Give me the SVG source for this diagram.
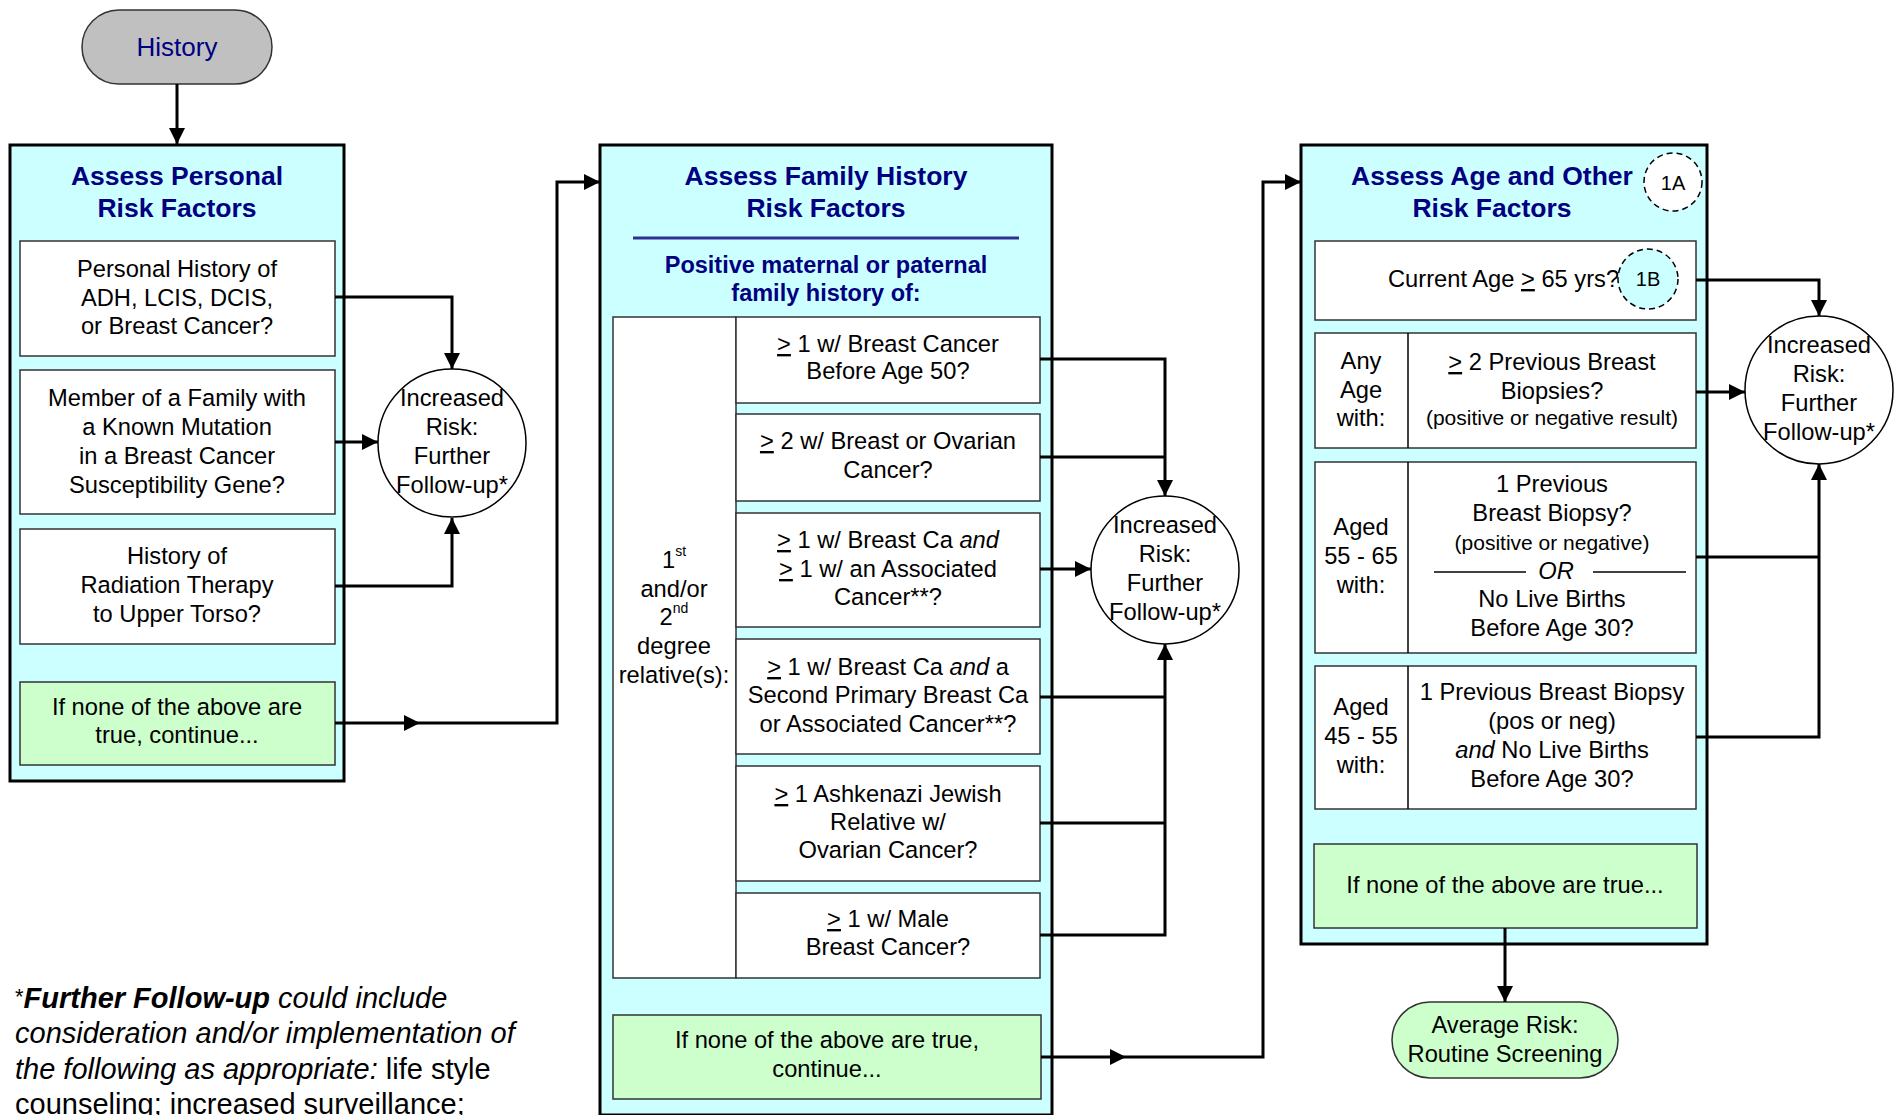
<svg xmlns="http://www.w3.org/2000/svg" width="1902" height="1115" viewBox="0 0 1902 1115">
<defs>
<marker id="ah" markerWidth="16" markerHeight="16" refX="16" refY="8" orient="auto" markerUnits="userSpaceOnUse"><path d="M0,0 L16,8 L0,16 z" fill="#000"/></marker>
<style>
.t{font-family:"Liberation Sans",Arial,sans-serif;font-size:23.7px;fill:#000;text-anchor:middle}
.h{font-family:"Liberation Sans",Arial,sans-serif;font-size:26.5px;font-weight:bold;fill:#000080;text-anchor:middle}
.sub{font-family:"Liberation Sans",Arial,sans-serif;font-size:23.5px;font-weight:bold;fill:#000080;text-anchor:middle}
.sm{font-size:21px}
.lbl{font-family:"Liberation Sans",Arial,sans-serif;font-size:20px;fill:#000;text-anchor:middle}
.panel{fill:#ccffff;stroke:#000;stroke-width:3}
.box{fill:#fff;stroke:#333;stroke-width:1.5}
.gbox{fill:#ccffcc;stroke:#333;stroke-width:1.5}
.circ{fill:#fff;stroke:#000;stroke-width:1.5}
.dash{stroke:#000;stroke-width:1.5;stroke-dasharray:6,4}
.c{fill:none;stroke:#000;stroke-width:3}
.ca{fill:none;stroke:#000;stroke-width:3;marker-end:url(#ah)}
.u{text-decoration:underline}
.i{font-style:italic}
.fn{font-family:"Liberation Sans",Arial,sans-serif;font-size:29px;fill:#000}
</style>
</defs>
<rect width="1902" height="1115" fill="#fff"/>

<g id="history">
<rect x="82" y="10" width="190" height="74" rx="37" ry="37" fill="#c0c0c0" stroke="#333" stroke-width="1.5"/>
<text class="t" x="177" y="56" style="font-size:26px;fill:#000080">History</text>
</g>

<g id="panel-personal">
<rect class="panel" x="10" y="145" width="334" height="636"/>
<text class="h" x="177" y="185">Assess Personal</text>
<text class="h" x="177" y="217">Risk Factors</text>
</g>
<g id="p1">
<rect class="box" x="20" y="241" width="315" height="115"/>
<text class="t" x="177" y="277">Personal History of</text>
<text class="t" x="177" y="306">ADH, LCIS, DCIS,</text>
<text class="t" x="177" y="334">or Breast Cancer?</text>
</g>
<g id="p2">
<rect class="box" x="20" y="370" width="315" height="144"/>
<text class="t" x="177" y="406">Member of a Family with</text>
<text class="t" x="177" y="435">a Known Mutation</text>
<text class="t" x="177" y="464">in a Breast Cancer</text>
<text class="t" x="177" y="493">Susceptibility Gene?</text>
</g>
<g id="p3">
<rect class="box" x="20" y="529" width="315" height="115"/>
<text class="t" x="177" y="564">History of</text>
<text class="t" x="177" y="593">Radiation Therapy</text>
<text class="t" x="177" y="622">to Upper Torso?</text>
</g>
<g id="p-none">
<rect class="gbox" x="20" y="682" width="315" height="83"/>
<text class="t" x="177" y="715">If none of the above are</text>
<text class="t" x="177" y="743">true, continue...</text>
</g>
<g id="risk1">
<circle class="circ" cx="452" cy="443" r="74"/>
<text class="t" x="452" y="406">Increased</text>
<text class="t" x="452" y="435">Risk:</text>
<text class="t" x="452" y="464">Further</text>
<text class="t" x="452" y="493">Follow-up*</text>
</g>

<g id="panel-family">
<rect class="panel" x="600" y="145" width="452" height="970"/>
<text class="h" x="826" y="185">Assess Family History</text>
<text class="h" x="826" y="217">Risk Factors</text>
<line x1="633" y1="238" x2="1019" y2="238" stroke="#2e3192" stroke-width="3"/>
<text class="sub" x="826" y="273">Positive maternal or paternal</text>
<text class="sub" x="826" y="301">family history of:</text>
</g>
<g id="relatives">
<rect x="613" y="317" width="123" height="661" fill="#fff" stroke="#333" stroke-width="1.5"/>
<text class="t" x="674" y="568">1<tspan dy="-12" style="font-size:14px">st</tspan></text>
<text class="t" x="674" y="597">and/or</text>
<text class="t" x="674" y="625">2<tspan dy="-12" style="font-size:14px">nd</tspan></text>
<text class="t" x="674" y="654">degree</text>
<text class="t" x="674" y="683">relative(s):</text>
</g>
<g id="fA">
<rect class="box" x="736" y="317" width="304" height="86"/>
<text class="t" x="888" y="352"><tspan class="u">&gt;</tspan> 1 w/ Breast Cancer</text>
<text class="t" x="888" y="379">Before Age 50?</text>
</g>
<g id="fB">
<rect class="box" x="736" y="414" width="304" height="87"/>
<text class="t" x="888" y="449"><tspan class="u">&gt;</tspan> 2 w/ Breast or Ovarian</text>
<text class="t" x="888" y="478">Cancer?</text>
</g>
<g id="fC">
<rect class="box" x="736" y="513" width="304" height="114"/>
<text class="t" x="888" y="548"><tspan class="u">&gt;</tspan> 1 w/ Breast Ca <tspan class="i">and</tspan></text>
<text class="t" x="888" y="577"><tspan class="u">&gt;</tspan> 1 w/ an Associated</text>
<text class="t" x="888" y="605">Cancer**?</text>
</g>
<g id="fD">
<rect class="box" x="736" y="639" width="304" height="115"/>
<text class="t" x="888" y="675"><tspan class="u">&gt;</tspan> 1 w/ Breast Ca <tspan class="i">and</tspan> a</text>
<text class="t" x="888" y="703">Second Primary Breast Ca</text>
<text class="t" x="888" y="732">or Associated Cancer**?</text>
</g>
<g id="fE">
<rect class="box" x="736" y="766" width="304" height="115"/>
<text class="t" x="888" y="802"><tspan class="u">&gt;</tspan> 1 Ashkenazi Jewish</text>
<text class="t" x="888" y="830">Relative w/</text>
<text class="t" x="888" y="858">Ovarian Cancer?</text>
</g>
<g id="fF">
<rect class="box" x="736" y="893" width="304" height="85"/>
<text class="t" x="888" y="927"><tspan class="u">&gt;</tspan> 1 w/ Male</text>
<text class="t" x="888" y="955">Breast Cancer?</text>
</g>
<g id="f-none">
<rect class="gbox" x="613" y="1015" width="428" height="84"/>
<text class="t" x="827" y="1048">If none of the above are true,</text>
<text class="t" x="827" y="1077">continue...</text>
</g>
<g id="risk2">
<circle class="circ" cx="1165" cy="570" r="74"/>
<text class="t" x="1165" y="533">Increased</text>
<text class="t" x="1165" y="562">Risk:</text>
<text class="t" x="1165" y="591">Further</text>
<text class="t" x="1165" y="620">Follow-up*</text>
</g>

<g id="panel-age">
<rect class="panel" x="1301" y="145" width="406" height="799"/>
<text class="h" x="1492" y="185">Assess Age and Other</text>
<text class="h" x="1492" y="217">Risk Factors</text>
<circle class="dash" cx="1673" cy="182" r="29" fill="#fff"/>
<text class="lbl" x="1673" y="190">1A</text>
</g>
<g id="a-current">
<rect class="box" x="1315" y="241" width="381" height="79"/>
<text class="t" x="1388" y="287" style="text-anchor:start">Current Age <tspan class="u">&gt;</tspan> 65 yrs?</text>
<circle class="dash" cx="1648" cy="279" r="30" fill="#ccffff"/>
<text class="lbl" x="1648" y="286">1B</text>
</g>
<g id="a-any">
<rect class="box" x="1315" y="333" width="381" height="115"/>
<line x1="1408" y1="333" x2="1408" y2="448" stroke="#000" stroke-width="1.5"/>
<text class="t" x="1361" y="369">Any</text>
<text class="t" x="1361" y="398">Age</text>
<text class="t" x="1361" y="426">with:</text>
<text class="t" x="1552" y="370"><tspan class="u">&gt;</tspan> 2 Previous Breast</text>
<text class="t" x="1552" y="399">Biopsies?</text>
<text class="t sm" x="1552" y="425">(positive or negative result)</text>
</g>
<g id="a-5565">
<rect class="box" x="1315" y="462" width="381" height="191"/>
<line x1="1408" y1="462" x2="1408" y2="653" stroke="#000" stroke-width="1.5"/>
<text class="t" x="1361" y="535">Aged</text>
<text class="t" x="1361" y="564">55 - 65</text>
<text class="t" x="1361" y="593">with:</text>
<text class="t" x="1552" y="492">1 Previous</text>
<text class="t" x="1552" y="521">Breast Biopsy?</text>
<text class="t sm" x="1552" y="550">(positive or negative)</text>
<line x1="1434" y1="572" x2="1526" y2="572" stroke="#000" stroke-width="1.5"/>
<line x1="1593" y1="572" x2="1686" y2="572" stroke="#000" stroke-width="1.5"/>
<text class="t i" x="1556" y="579">OR</text>
<text class="t" x="1552" y="607">No Live Births</text>
<text class="t" x="1552" y="636">Before Age 30?</text>
</g>
<g id="a-4555">
<rect class="box" x="1315" y="666" width="381" height="143"/>
<line x1="1408" y1="666" x2="1408" y2="809" stroke="#000" stroke-width="1.5"/>
<text class="t" x="1361" y="715">Aged</text>
<text class="t" x="1361" y="744">45 - 55</text>
<text class="t" x="1361" y="773">with:</text>
<text class="t" x="1552" y="700">1 Previous Breast Biopsy</text>
<text class="t" x="1552" y="729">(pos or neg)</text>
<text class="t" x="1552" y="758"><tspan class="i">and</tspan> No Live Births</text>
<text class="t" x="1552" y="787">Before Age 30?</text>
</g>
<g id="a-none">
<rect class="gbox" x="1314" y="844" width="383" height="84"/>
<text class="t" x="1505" y="893">If none of the above are true...</text>
</g>
<g id="risk3">
<circle class="circ" cx="1819" cy="390" r="74"/>
<text class="t" x="1819" y="353">Increased</text>
<text class="t" x="1819" y="382">Risk:</text>
<text class="t" x="1819" y="411">Further</text>
<text class="t" x="1819" y="440">Follow-up*</text>
</g>
<g id="average">
<rect x="1392" y="1002" width="226" height="76" rx="38" ry="38" fill="#ccffcc" stroke="#333" stroke-width="1.5"/>
<text class="t" x="1505" y="1033">Average Risk:</text>
<text class="t" x="1505" y="1062">Routine Screening</text>
</g>

<g id="connectors">
<path class="ca" d="M177,84 V144"/>
<path class="ca" d="M335,297 H452 V369"/>
<path class="ca" d="M335,442 H378"/>
<path class="ca" d="M335,586 H452 V518"/>
<path class="ca" d="M335,723 H557 V182 H600"/>
<polygon points="404,715 420,723 404,731" fill="#000"/>
<path class="ca" d="M1040,359 H1165 V496"/>
<path class="c" d="M1040,457 H1165"/>
<path class="ca" d="M1040,569 H1091"/>
<path class="c" d="M1040,697 H1165"/>
<path class="c" d="M1040,823 H1165"/>
<path class="ca" d="M1040,935 H1165 V644"/>
<path class="ca" d="M1041,1057 H1263 V182 H1301"/>
<polygon points="1110,1049 1126,1057 1110,1065" fill="#000"/>
<path class="ca" d="M1696,280 H1819 V316"/>
<path class="ca" d="M1696,392 H1745"/>
<path class="c" d="M1696,557 H1819"/>
<path class="ca" d="M1696,737 H1819 V464"/>
<path class="ca" d="M1505,928 V1002"/>
</g>

<g id="footnote">
<text class="fn" x="15" y="1008"><tspan style="font-size:22px" dy="-4">*</tspan><tspan dy="4" style="font-weight:bold;font-style:italic">Further Follow-up</tspan><tspan class="i"> could include</tspan></text>
<text class="fn i" x="15" y="1043">consideration and/or implementation of</text>
<text class="fn" x="15" y="1079"><tspan class="i">the following as appropriate:</tspan> life style</text>
<text class="fn" x="15" y="1114">counseling; increased surveillance;</text>
</g>
</svg>
